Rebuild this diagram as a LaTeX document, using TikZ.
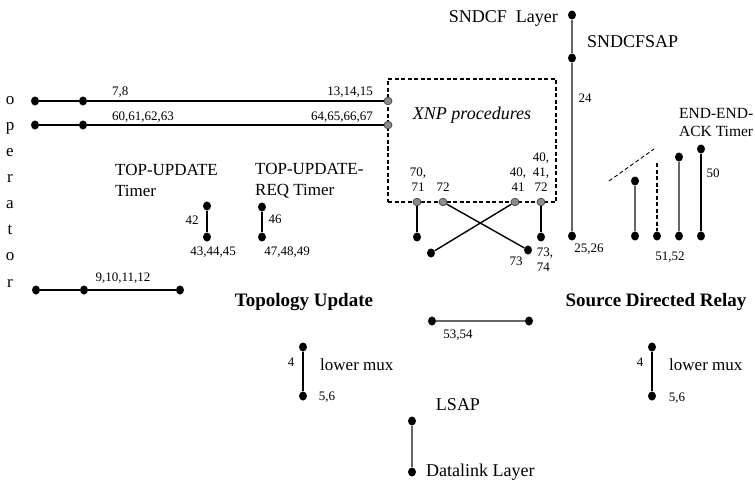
\documentclass[tikz,border=0pt]{standalone}
\usepackage{fontspec}
\usetikzlibrary{shapes.geometric}
\setmainfont{Liberation Serif}
\begin{document}
\begin{tikzpicture}[x=1pt,y=-1pt,
  dot/.style={ellipse,fill=black,inner sep=0pt,minimum width=8pt,minimum height=9pt},
  gdot/.style={ellipse,fill=black!45,draw=black!70,line width=0.8pt,inner sep=0pt,minimum width=8pt,minimum height=7.5pt},
  ln/.style={line width=1.4pt,black},
  gln/.style={line width=1.4pt,black!60},
  dln/.style={line width=1.3pt,black,dash pattern=on 4pt off 2.5pt},
  big/.style={inner sep=0pt,font=\fontsize{18}{21}\selectfont},
  mid/.style={inner sep=0pt,font=\fontsize{17}{21}\selectfont,align=left},
  sml/.style={inner sep=0pt,font=\fontsize{15.5}{18}\selectfont,align=left},
  num/.style={inner sep=0pt,font=\fontsize{13}{15}\selectfont,align=left},
  hd/.style={inner sep=0pt,font=\fontsize{19}{22}\selectfont\bfseries},
]
\useasboundingbox (0,0) rectangle (755,487);

% operator
\node[inner sep=0pt,font=\fontsize{17}{26.1}\selectfont,align=center,anchor=north] (op) at (10,96.1) {o\\p\\e\\r\\a\\t\\o\\r};

% top-left lines
\node[dot] (o1) at (35,101) {};
\node[dot] (o2) at (83,101) {};
\node[dot] (p1) at (35,125) {};
\node[dot] (p2) at (83,125) {};
\node[dot] (r1) at (36,290) {};
\node[dot] (r2) at (84,290) {};
\node[dot] (r3) at (180,290) {};

% XNP box
\node[draw,line width=1.3pt,dash pattern=on 4pt off 2.5pt,minimum width=168pt,minimum height=123pt,inner sep=0pt] (xnp) at (472,140.5) {};
\node[big,font=\fontsize{18}{21}\selectfont\itshape] (xnpt) at (472,115) {XNP procedures};

\node[gdot] (g1) at (388,101) {};
\node[gdot] (g2) at (388,125) {};
\node[gdot] (b1) at (417,202) {};
\node[gdot] (b2) at (443,202) {};
\node[gdot] (b3) at (515,202) {};
\node[gdot] (b4) at (541,202) {};

\draw[ln] (o1) -- (o2) -- (g1);
\draw[ln] (p1) -- (p2) -- (g2);
\draw[ln] (r1) -- (r2) -- (r3);

\node[num,anchor=west] (l78) at (112,92) {7,8};
\node[num,anchor=east] (l13) at (373,92) {13,14,15};
\node[num,anchor=west] (l60) at (112,117) {60,61,62,63};
\node[num,anchor=east] (l64) at (373,117) {64,65,66,67};
\node[num] (l9) at (123,278) {9,10,11,12};

% below box
\node[dot] (c1) at (417,237) {};
\node[dot] (c4) at (541,237) {};
\node[dot] (c2) at (431,253) {};
\node[dot] (c3) at (528,250) {};
\draw[ln] (b1) -- (c1);
\draw[ln] (b4) -- (c4);
\draw[ln] (b2) -- (c3);
\draw[ln] (b3) -- (c2);

\node[num,align=center] (l70) at (418,180) {70,\\71};
\node[num] (l72) at (443,187) {72};
\node[num,align=center] (l40) at (518,180) {40,\\41};
\node[num,align=center] (l40b) at (541,172.5) {40,\\41,\\72};
\node[num] (l73) at (516,261) {73};
\node[num,align=left] (l7374) at (545,260) {73,\\74};

% timers
\node[mid,anchor=west] (tu) at (115,180.5) {TOP-UPDATE\\Timer};
\node[mid,anchor=west] (tur) at (255,180.5) {TOP-UPDATE-\\REQ Timer};
\node[dot] (t1t) at (207,206) {};
\node[dot] (t1b) at (207,237) {};
\node[dot] (t2t) at (262,207) {};
\node[dot] (t2b) at (262,237) {};
\draw[ln] (t1t) -- (t1b);
\draw[ln] (t2t) -- (t2b);
\node[num] (l42) at (192,220) {42};
\node[num] (l46) at (275,219) {46};
\node[num] (l43) at (213,252) {43,44,45};
\node[num] (l47) at (287,252) {47,48,49};

% SNDCF
\node[dot] (s1) at (572,15) {};
\node[dot] (s2) at (572,58) {};
\node[dot] (s3) at (572,236) {};
\draw[gln] (s1) -- (s2) -- (s3);
\node[big,anchor=east] (sl) at (558,18) {SNDCF\ \ Layer};
\node[big,anchor=west] (ss) at (587,42) {SNDCFSAP};
\node[num] (l24) at (585,98) {24};
\node[num] (l25) at (589,249) {25,26};

% source directed relay cluster
\node[sml,anchor=west] (ee) at (679,123) {END-END-\\ACK Timer};
\coordinate (d1) at (609,181);
\coordinate (d2) at (654,149);
\coordinate (d3) at (657,163);
\draw[line width=0.9pt,dash pattern=on 4pt off 2.5pt] (d1) -- (d2);
\node[dot] (e1t) at (635,181) {};
\node[dot] (e1b) at (635,236) {};
\node[dot] (e2b) at (657,236) {};
\node[dot] (e3t) at (679,157) {};
\node[dot] (e3b) at (679,236) {};
\node[dot] (e4t) at (701,149) {};
\node[dot] (e4b) at (701,236) {};
\draw[gln] (e1t) -- (e1b);
\draw[dln] (d3) -- (e2b);
\draw[gln] (e3t) -- (e3b);
\draw[ln] (e4t) -- (e4b);
\node[num] (l50) at (713,173) {50};
\node[num] (l51) at (670,257) {51,52};

% headings
\node[hd] (topo) at (304,302) {Topology Update};
\node[hd] (sdr) at (656,302) {Source Directed Relay};

% 53,54
\node[dot] (m1) at (432,321) {};
\node[dot] (m2) at (529,321) {};
\draw[gln] (m1) -- (m2);
\node[num] (l53) at (458,335) {53,54};

% lower mux
\node[dot] (lm1t) at (303,347) {};
\node[dot] (lm1b) at (303,396) {};
\draw[ln] (lm1t) -- (lm1b);
\node[num] (l4a) at (291,362) {4};
\node[mid,anchor=west] (lma) at (320,365) {lower mux};
\node[num] (l56a) at (327,397) {5,6};
\node[dot] (lm2t) at (652,347) {};
\node[dot] (lm2b) at (652,396) {};
\draw[ln] (lm2t) -- (lm2b);
\node[num] (l4b) at (640,362) {4};
\node[mid,anchor=west] (lmb) at (669,365) {lower mux};
\node[num] (l56b) at (677,398) {5,6};

% LSAP
\node[dot] (ls1) at (412,421) {};
\node[dot] (ls2) at (412,472) {};
\draw[gln] (ls1) -- (ls2);
\node[big] (lsap) at (458,405) {LSAP};
\node[big,anchor=west] (dl) at (426,472) {Datalink Layer};
\end{tikzpicture}
\end{document}
